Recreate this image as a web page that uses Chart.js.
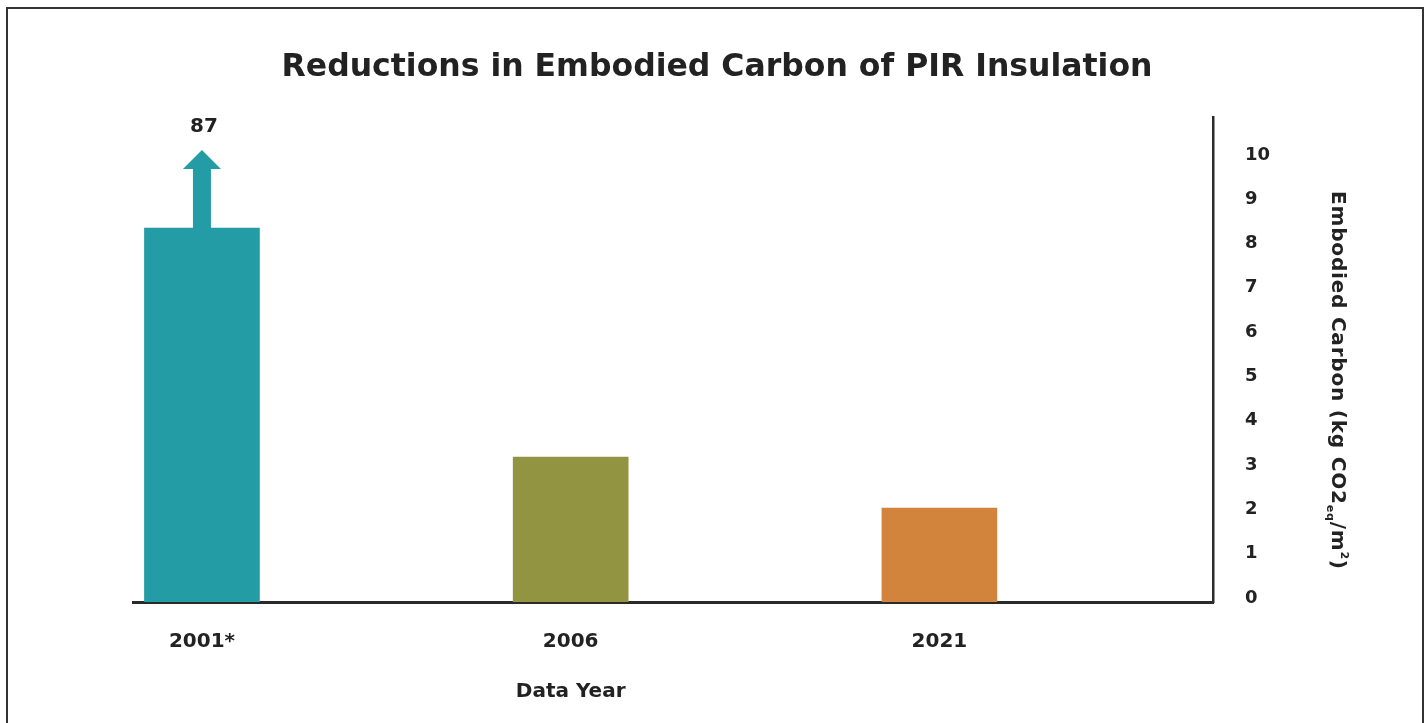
<!DOCTYPE html>
<html>
<head>
<meta charset="utf-8">
<title>Reductions in Embodied Carbon of PIR Insulation</title>
<script src="https://cdn.jsdelivr.net/npm/chart.js@4.4.1/dist/chart.umd.min.js"></script>
<style>
    html, body { margin: 0; padding: 0; background: #ffffff; }
    #wrap { width: 1426px; height: 723px; position: relative; }
</style>
</head>
<body>
<div id="wrap"><canvas id="carbonChart" width="1426" height="723"></canvas></div>
<script>
const categories = ['2001*', '2006', '2021'];
// bar heights as drawn (the 2001 bar is cut off, its real value is shown above the arrow)
const embodiedCarbon = [8.44, 3.27, 2.12];
const overflowValues = ['87', null, null];
const barColors = ['#239ca6', '#939442', '#d2843d'];
const yTicks = [0, 1, 2, 3, 4, 5, 6, 7, 8, 9, 10];

const FONT = "'DejaVu Sans', Verdana, sans-serif";
const INK = '#222222';

// frame, overflow arrow, axis titles
const extras = {
    id: 'extras',
    beforeDraw(chart) {
        const ctx = chart.ctx;
        ctx.save();
        ctx.strokeStyle = '#333333';
        ctx.lineWidth = 2;
        ctx.strokeRect(7, 8, 1416, 730);
        ctx.restore();
    },
    afterDatasetsDraw(chart) {
        const ctx = chart.ctx;
        const bars = chart.getDatasetMeta(0).data;
        ctx.save();
        bars.forEach((bar, i) => {
            if (!overflowValues[i]) return;
            const x = bar.x;
            const top = bar.y;
            ctx.fillStyle = barColors[i];
            ctx.beginPath();
            ctx.moveTo(x - 9, top + 1);
            ctx.lineTo(x - 9, top - 59);
            ctx.lineTo(x - 19, top - 59);
            ctx.lineTo(x, top - 78);
            ctx.lineTo(x + 19, top - 59);
            ctx.lineTo(x + 9, top - 59);
            ctx.lineTo(x + 9, top + 1);
            ctx.closePath();
            ctx.fill();
            ctx.fillStyle = INK;
            ctx.font = 'bold 20px ' + FONT;
            ctx.textAlign = 'center';
            ctx.textBaseline = 'middle';
            ctx.fillText(overflowValues[i], x + 2, top - 101);
        });
        ctx.restore();
    },
    afterDraw(chart) {
        const ctx = chart.ctx;
        const xs = chart.scales.x;
        const ys = chart.scales.y;
        ctx.save();
        ctx.fillStyle = INK;
        ctx.textBaseline = 'middle';

        // x axis title, under the middle bar
        ctx.font = 'bold 20px ' + FONT;
        ctx.textAlign = 'center';
        ctx.fillText('Data Year', xs.getPixelForValue(1), 692);

        // y axis title, rotated, with subscript and superscript
        const cy = (ys.getPixelForValue(0) + ys.getPixelForValue(10)) / 2;
        ctx.translate(1337, cy);
        ctx.rotate(Math.PI / 2);
        ctx.letterSpacing = '0.8px';
        const parts = [
            { t: 'Embodied Carbon (kg CO2', size: 20, dy: 0 },
            { t: 'eq', size: 11, dy: 7 },
            { t: '/m', size: 20, dy: 0 },
            { t: '2', size: 11, dy: -7 },
            { t: ')', size: 20, dy: 0 }
        ];
        let total = 0;
        parts.forEach(p => {
            ctx.font = 'bold ' + p.size + 'px ' + FONT;
            p.w = ctx.measureText(p.t).width;
            total += p.w;
        });
        let px = -total / 2;
        ctx.textAlign = 'left';
        parts.forEach(p => {
            ctx.font = 'bold ' + p.size + 'px ' + FONT;
            ctx.fillText(p.t, px, p.dy);
            px += p.w;
        });
        ctx.restore();
    }
};

const ctx = document.getElementById('carbonChart').getContext('2d');
const carbonChart = new Chart(ctx, {
    type: 'bar',
    data: {
        datasets: [{
            label: 'Embodied Carbon',
            data: categories.map((c, i) => ({ x: i, y: embodiedCarbon[i] })),
            backgroundColor: barColors,
            borderWidth: 0,
            barThickness: 115
        }]
    },
    options: {
        responsive: false,
        animation: false,
        layout: {
            padding: { left: 133, right: 125, top: 0, bottom: 0 }
        },
        plugins: {
            legend: { display: false },
            tooltip: { enabled: false },
            title: {
                display: true,
                text: 'Reductions in Embodied Carbon of PIR Insulation',
                color: INK,
                font: { family: FONT, size: 31.5, weight: 'bold' },
                padding: { top: 49, bottom: 30 }
            }
        },
        scales: {
            x: {
                type: 'linear',
                offset: false,
                min: -0.187,
                max: 2.742,
                afterBuildTicks: (scale) => {
                    scale.ticks = categories.map((c, i) => ({ value: i }));
                },
                afterFit: (scale) => { scale.height = 121; },
                grid: { display: false, drawTicks: false },
                border: { display: true, color: '#2a2a2a', width: 3 },
                ticks: {
                    color: INK,
                    font: { family: FONT, size: 20, weight: 'bold' },
                    padding: 28,
                    maxRotation: 0,
                    callback: (v) => categories[v]
                }
            },
            y: {
                position: 'right',
                min: 0,
                max: 10.95,
                afterBuildTicks: (scale) => {
                    scale.ticks = yTicks.map(v => ({ value: v }));
                },
                afterFit: (scale) => { scale.width = 88; },
                grid: { display: false, drawTicks: false },
                border: { display: true, color: '#2a2a2a', width: 2.5 },
                ticks: {
                    color: INK,
                    font: { family: FONT, size: 18, weight: 'bold' },
                    padding: 32,
                    labelOffset: -4
                }
            }
        }
    },
    plugins: [extras]
});
</script>
</body>
</html>
